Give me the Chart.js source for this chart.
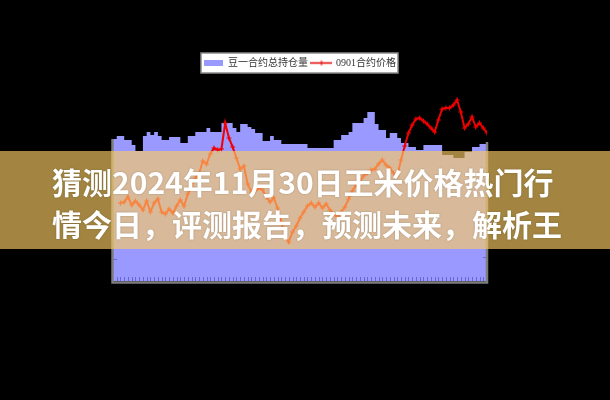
<!DOCTYPE html>
<html><head><meta charset="utf-8">
<script src="https://cdn.jsdelivr.net/npm/chart.js@4/dist/chart.umd.min.js"></script>
<style>
html,body{margin:0;padding:0;background:#000;width:610px;height:400px;overflow:hidden}
#wrap{position:relative;width:610px;height:400px;background:#000}
canvas{position:absolute;left:0;top:0}
#banner{position:absolute;left:0;top:151px;width:610px;height:98px;background:rgba(250,205,100,0.65)}
#title{position:absolute;left:52px;top:160px;color:#fff;font:700 30px/42px 'Noto Sans CJK SC',sans-serif;white-space:nowrap;text-shadow:0 0 2px rgba(0,0,0,.25)}
</style></head>
<body><div id="wrap"><canvas id="c" width="610" height="400"></canvas><div id="banner"></div><div id="title"><div>猜测2024年11月30日王米价格热门行</div><div>情今日，评测报告，预测未来，解析王</div></div></div>
<script>
const seriesNames = ['豆一合约总持仓量', '0901合约价格'];
const volumeDays = [0,1,3,5,6,8,9,10,11,12,13,15,18,20,22,25,26,29,32,33,34,36,37,38,40,42,43,45,52,59,61,63,64,67,68,70,71,73,74,76,77,79,81,83,88,91,94,96,98,100];
const volumeValues = [142,145,141,136,130,145,149,146,149,145,141,144,138,145,149,153,149,158,153,149,157,154,152,148,140,145,141,137,133,141,146,149,158,163,169,157,151,143,148,143,138,134,131,136,126,123,129,134,137,137];
const priceDays = [2,3,4,5,6,7,8,9,10,11,12,13,14,15,16,17,18,19,20,21,22,23,24,25,26,27,28,29,30,31,32,33,34,35,36,37,38,39,40,41,42,43,44,45,46,47,48,49,50,51,52,53,54,55,56,57,58,59,60,61,62,63,64,65,66,67,68,69,70,71,72,73,74,75,76,77,78,79,80,81,82,83,84,85,86,87,88,89,90,91,92,93,94,95,96,97,98,99,100];
const priceValues = [3580,3590,3640,3560,3600,3560,3510,3600,3490,3580,3620,3490,3470,3520,3480,3550,3610,3550,3670,3750,3830,3870,4000,3970,4070,4130,4110,4120,4380,4230,4140,4030,3920,3950,3770,3690,3700,3730,3710,3640,3590,3630,3530,3390,3250,3190,3290,3350,3430,3490,3550,3580,3540,3580,3530,3570,3510,3470,3440,3490,3540,3620,3700,3760,3800,3850,3880,3910,3920,3970,4010,3960,3930,3880,3850,4010,4150,4280,4360,4420,4430,4400,4370,4330,4290,4410,4520,4530,4530,4560,4610,4490,4330,4370,4440,4340,4380,4330,4280];

const icon = document.createElement('canvas'); icon.width = 22; icon.height = 7;
(function(){const g = icon.getContext('2d'); g.strokeStyle = '#e00000'; g.lineWidth = 1.5;
 g.beginPath(); g.moveTo(0,3.5); g.lineTo(22,3.5); g.stroke();
 g.lineWidth = 1; g.beginPath(); g.moveTo(11,1); g.lineTo(11,6); g.moveTo(9,3.5); g.lineTo(13,3.5); g.stroke();})();

const legendBox = {
  id: 'legendBox',
  beforeDraw(chart) {
    const hb = chart.legend && chart.legend.legendHitBoxes;
    if (!hb || !hb.length) return;
    const ctx = chart.ctx;
    const l = hb[0].left - 3, r = hb[hb.length-1].left + hb[hb.length-1].width + 2;
    const t = hb[0].top - 5, h = hb[0].height + 10;
    ctx.save();
    ctx.fillStyle = '#fff'; ctx.fillRect(l, t, r - l, h);
    ctx.strokeStyle = '#8a8a8a'; ctx.lineWidth = 1.5; ctx.strokeRect(l, t, r - l, h);
    ctx.restore();
  }
};
const frame = {
  id: 'frame',
  afterDatasetsDraw(chart) {
    const {ctx, chartArea: a, scales: {x, yVol}} = chart;
    const topL = yVol.getPixelForValue(volumeValues[0]);
    const topR = yVol.getPixelForValue(volumeValues[volumeValues.length-1]) - 2;
    ctx.save();
    ctx.strokeStyle = 'rgba(70,70,180,0.6)'; ctx.lineWidth = 1;
    for (let d = 1; d < 100; d++) {
      const px = Math.round(x.getPixelForValue(d)) + 0.5;
      ctx.beginPath(); ctx.moveTo(px, a.bottom - 4); ctx.lineTo(px, a.bottom); ctx.stroke();
    }
    ctx.beginPath(); ctx.moveTo(a.left, a.bottom - 21.5); ctx.lineTo(a.left + 4, a.bottom - 21.5);
    ctx.moveTo(a.right, a.bottom - 23.5); ctx.lineTo(a.right - 4, a.bottom - 23.5); ctx.stroke();
    ctx.strokeStyle = '#7e7e7e'; ctx.lineWidth = 2.5;
    ctx.beginPath(); ctx.moveTo(a.left - 0.5, topL); ctx.lineTo(a.left - 0.5, a.bottom + 1.5);
    ctx.lineTo(a.right, a.bottom + 1.5); ctx.lineTo(a.right, topR); ctx.stroke();
    ctx.restore();
  }
};

new Chart(document.getElementById('c'), {
  type: 'line',
  data: { datasets: [
    { label: seriesNames[0], data: volumeDays.map((d,i) => ({x: d, y: volumeValues[i]})), yAxisID: 'yVol',
      stepped: true, fill: 'origin', backgroundColor: '#9999ff', borderColor: 'rgba(0,0,0,0)', borderWidth: 1, pointRadius: 0, order: 2 },
    { label: seriesNames[1], data: priceDays.map((d,i) => ({x: d, y: priceValues[i]})), yAxisID: 'yPrice',
      borderColor: '#f00000', borderWidth: 2, pointStyle: 'cross', pointRadius: 2.5, pointBorderWidth: 1.2,
      pointBorderColor: '#f00000', fill: false, tension: 0, order: 1 }
  ]},
  options: {
    responsive: false, animation: false, devicePixelRatio: 1,
    layout: { padding: { top: 54, left: 113, right: 123, bottom: 119 } },
    scales: {
      x: { type: 'linear', min: 0, max: 100, display: false },
      yVol: { type: 'linear', position: 'left', min: 0, max: 203, display: false },
      yPrice: { type: 'linear', position: 'right', min: 2800, max: 4830, display: false }
    },
    plugins: {
      tooltip: { enabled: false },
      legend: { position: 'top', labels: {
        usePointStyle: true, pointStyleWidth: 19, boxHeight: 6, padding: 4, color: '#333',
        font: { family: "'Liberation Serif','Noto Sans CJK SC',serif", size: 10 },
        generateLabels(chart) {
          const items = Chart.defaults.plugins.legend.labels.generateLabels(chart);
          items.sort((a, b) => a.datasetIndex - b.datasetIndex);
          items[0].pointStyle = 'rect'; items[0].fillStyle = '#9999ff'; items[0].strokeStyle = '#9999ff'; items[0].lineWidth = 0;
          items[1].pointStyle = icon; items[1].fillStyle = '#ff0000';
          return items;
        }
      }}
    }
  },
  plugins: [legendBox, frame]
});
</script>
</body></html>
